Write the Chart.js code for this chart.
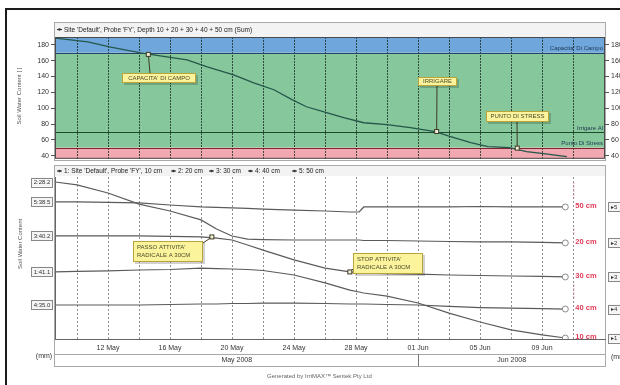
<!DOCTYPE html>
<html><head><meta charset="utf-8">
<script src="https://cdn.jsdelivr.net/npm/chart.js@4.4.1/dist/chart.umd.min.js"></script>
<style>
html,body{margin:0;padding:0;background:#fff;width:620px;height:385px;overflow:hidden;}
#wrap{position:relative;width:620px;height:385px;}
#frameLine{position:absolute;left:5px;top:8px;width:640px;height:400px;border-top:2px solid #1c1c1c;border-left:2px solid #1c1c1c;}
canvas{position:absolute;left:0;}
#top{top:0;}
#bot{top:165px;}
#gen{position:absolute;left:267px;top:373px;font:6px 'Liberation Sans',Arial,sans-serif;color:#666;white-space:nowrap;}
</style></head>
<body><div id="wrap">
<div id="frameLine"></div>
<canvas id="top" width="620" height="165"></canvas>
<canvas id="bot" width="620" height="220"></canvas>
<div id="gen">Generated by IrriMAX™ Sentek Pty Ltd</div>
</div>
<script>
// ---------- data ----------
// x values are day numbers counted from 1 May 2008 (32 = 01 Jun)
const sumDays   = [8.6, 10.7, 12.1, 14.1, 15.8, 17.1, 18.4, 20.1, 21.4, 22.7, 23.9, 24.8, 26.1, 27.2, 28.5, 30.0, 31.5, 33.1, 34.1, 35.4, 36.5, 37.9, 39.0, 40.1, 41.6];
const sumValues = [188.5, 183.8, 177.5, 169.9, 164.9, 161.1, 152.3, 142.2, 132.1, 123.3, 110.6, 101.8, 94.3, 88.0, 81.6, 79.1, 75.3, 70.3, 64.0, 56.4, 51.4, 50.1, 45.1, 42.5, 38.7];
const sumTicks  = [40, 60, 80, 100, 120, 140, 160, 180];
const fullPoint = 170, refillPoint = 70, stressPoint = 50;

const depthDays = [8.6, 10, 12, 14, 16, 18, 19, 20, 21, 22, 24, 26, 27.6, 28.2, 28.5, 30, 32, 34, 36, 38, 40, 41.5];
const depth10 = [41.4, 41.7, 42.0, 42.6, 42.9, 43.8, 43.5, 43.2, 42.9, 42.3, 39.5, 34.6, 30.2, 29.0, 28.4, 26.5, 22.2, 16.0, 10.5, 5.6, 2.5, 0.6];
const depth20 = [96.9, 95.1, 90.1, 83.3, 79.0, 73.5, 67.9, 63.6, 61.7, 61.4, 61.1, 61.1, 61.1, 61.1, 60.8, 60.8, 60.5, 60.2, 59.9, 59.9, 59.6, 59.3];
const depth30 = [63.6, 63.6, 63.6, 63.6, 63.3, 63.0, 62.3, 61.1, 58.0, 54.9, 48.8, 43.8, 41.4, 41.0, 40.7, 40.4, 40.1, 39.5, 39.2, 38.9, 38.6, 38.3];
const depth40 = [21.0, 21.0, 21.0, 21.0, 21.3, 21.6, 21.6, 21.9, 21.9, 22.2, 22.2, 21.9, 21.6, 21.6, 21.6, 21.3, 21.0, 20.1, 19.4, 19.1, 18.8, 18.5];
const depth50 = [84.6, 84.6, 84.3, 84.0, 82.7, 81.5, 81.2, 80.9, 80.6, 80.2, 79.6, 79.0, 78.4, 78.4, 81.5, 81.5, 81.5, 81.5, 81.8, 81.5, 81.5, 81.5];
const depthNames = ['10 cm', '20 cm', '30 cm', '40 cm', '50 cm'];
const startBoxLabels = ['1:41.1', '2:28.2', '3:40.2', '4:35.0', '5:38.5'];
const endBoxLabels = ['▸1', '▸2', '▸3', '▸4', '▸5'];

const gridDays = [10, 12, 14, 16, 18, 20, 22, 24, 26, 28, 30, 32, 34, 36, 38, 40, 42];
const dayLabels = {12:'12 May', 16:'16 May', 20:'20 May', 24:'24 May', 28:'28 May', 32:'01 Jun', 36:'05 Jun', 40:'09 Jun'};
const xMin = 8.58, xMax = 44.06;

const topTitle = "Site 'Default', Probe 'FY', Depth 10 + 20 + 30 + 40 + 50 cm (Sum)";
const legendItems = ["1: Site 'Default', Probe 'FY', 10 cm", '2: 20 cm', '3: 30 cm', '4: 40 cm', '5: 50 cm'];

// ---------- helpers ----------
const FONT = "'Liberation Sans', Arial, sans-serif";
function callout(ctx, lines, box, from, tx, ty, align){
  ctx.save();
  ctx.strokeStyle = '#3d3a25'; ctx.lineWidth = 1;
  ctx.beginPath(); ctx.moveTo(from[0], from[1]); ctx.lineTo(tx, ty); ctx.stroke();
  ctx.fillStyle = '#f2f0d8'; ctx.fillRect(tx-2, ty-2, 4, 4);
  ctx.strokeRect(tx-2, ty-2, 4, 4);
  ctx.fillStyle = 'rgba(0,0,0,0.18)'; ctx.fillRect(box[0]+2, box[1]+2, box[2], box[3]);
  ctx.fillStyle = '#fbf49c'; ctx.fillRect(box[0], box[1], box[2], box[3]);
  ctx.strokeStyle = '#b9a53c'; ctx.strokeRect(box[0]+0.5, box[1]+0.5, box[2]-1, box[3]-1);
  ctx.fillStyle = '#4b4a2c'; ctx.font = '6px ' + FONT; ctx.textBaseline = 'middle';
  const lh = 7.5, y0 = box[1] + box[3]/2 - (lines.length-1)*lh/2;
  lines.forEach((t, i) => {
    if (align === 'left') { ctx.textAlign = 'left'; ctx.fillText(t, box[0]+4, y0 + i*lh); }
    else { ctx.textAlign = 'center'; ctx.fillText(t, box[0]+box[2]/2, y0 + i*lh); }
  });
  ctx.restore();
}
function legendMark(ctx, x, y, color){
  ctx.save(); ctx.strokeStyle = color; ctx.fillStyle = color; ctx.lineWidth = 1;
  ctx.beginPath(); ctx.moveTo(x, y); ctx.lineTo(x+5, y); ctx.stroke();
  ctx.beginPath(); ctx.arc(x+2.5, y, 1.3, 0, Math.PI*2); ctx.fill();
  ctx.restore();
}

// ---------- top chart ----------
const topDecor = {
  id: 'topDecor',
  beforeDraw(chart){
    const {ctx, chartArea: a, scales: {y}} = chart;
    ctx.save();
    ctx.fillStyle = '#f3f3f3'; ctx.fillRect(54, 22, 552, 15);
    ctx.strokeStyle = '#a9a9a9'; ctx.lineWidth = 1; ctx.strokeRect(54.5, 22.5, 551, 138);
    legendMark(ctx, 57, 29.5, '#333');
    ctx.fillStyle = '#222'; ctx.font = '6.5px ' + FONT; ctx.textBaseline = 'middle';
    ctx.fillText(topTitle, 64, 30);
    const yF = y.getPixelForValue(fullPoint), yS = y.getPixelForValue(stressPoint);
    ctx.fillStyle = '#6fa7dd'; ctx.fillRect(a.left, a.top, a.width, yF - a.top);
    ctx.fillStyle = '#86c89c'; ctx.fillRect(a.left, yF, a.width, yS - yF);
    ctx.fillStyle = '#f1a8b1'; ctx.fillRect(a.left, yS, a.width, a.bottom - yS);
    // axis title
    ctx.translate(19, 96); ctx.rotate(-Math.PI/2);
    ctx.fillStyle = '#555'; ctx.font = '6px ' + FONT; ctx.textAlign = 'center';
    ctx.fillText('Soil Water Content [ ]', 0, 0);
    ctx.restore();
  },
  beforeDatasetsDraw(chart){
    const {ctx, chartArea: a, scales: {y}} = chart;
    ctx.save(); ctx.lineWidth = 1.2;
    [[fullPoint, '#27416a'], [refillPoint, '#1d4a2a'], [stressPoint, '#7d2530']].forEach(([v, c]) => {
      const py = Math.round(y.getPixelForValue(v)) + 0.5;
      ctx.strokeStyle = c; ctx.beginPath(); ctx.moveTo(a.left, py); ctx.lineTo(a.right, py); ctx.stroke();
    });
    ctx.strokeStyle = '#4a4a4a'; ctx.lineWidth = 1;
    ctx.strokeRect(a.left + 0.5, a.top + 0.5, a.width - 1, a.height - 1);
    ctx.fillStyle = '#1f3550'; ctx.font = '6px ' + FONT; ctx.textAlign = 'right'; ctx.textBaseline = 'bottom';
    ctx.fillText("Capacita' Di Campo", a.right - 2, y.getPixelForValue(fullPoint) - 1);
    ctx.fillText('Irrigare Al', a.right - 2, y.getPixelForValue(refillPoint) - 1);
    ctx.fillText('Punto Di Stress', a.right - 2, y.getPixelForValue(stressPoint) - 1);
    ctx.restore();
  },
  afterDraw(chart){
    const {ctx, scales: {x, y}} = chart;
    let tx = x.getPixelForValue(14.6), ty = y.getPixelForValue(168);
    callout(ctx, ["CAPACITA' DI CAMPO"], [122, 73, 74, 10], [150, 73], tx, ty);
    tx = x.getPixelForValue(33.2); ty = y.getPixelForValue(70.5);
    callout(ctx, ['IRRIGARE'], [418, 77, 39, 9], [437, 86], tx, ty);
    tx = x.getPixelForValue(38.4); ty = y.getPixelForValue(49.5);
    callout(ctx, ['PUNTO DI STRESS'], [486, 111, 63, 11], [517, 122], tx, ty);
  }
};

const yTopCommon = {
  min: 36, max: 190,
  afterBuildTicks: s => { s.ticks = sumTicks.map(v => ({value: v})); },
  ticks: {font: {size: 7, family: FONT}, color: '#333', padding: 2},
  grid: {drawOnChartArea: false, tickLength: 4, color: '#555'},
  border: {display: false}
};

new Chart(document.getElementById('top'), {
  type: 'line',
  data: {datasets: [{
    data: sumDays.map((d, i) => ({x: d, y: sumValues[i]})),
    borderColor: '#25574b', borderWidth: 1.3, pointRadius: 0, tension: 0
  }]},
  options: {
    responsive: false, animation: false, events: [],
    layout: {padding: {left: 0, right: 0, top: 37, bottom: 6}},
    plugins: {legend: {display: false}, tooltip: {enabled: false}},
    scales: {
      x: {type: 'linear', min: xMin, max: xMax,
        afterBuildTicks: s => { s.ticks = gridDays.map(v => ({value: v})); },
        ticks: {display: false},
        grid: {color: 'rgba(25,45,35,0.8)', drawTicks: false, lineWidth: 1},
        border: {display: false, dash: [2, 1]},
        afterFit: s => { s.height = 0; }},
      y: Object.assign({}, yTopCommon, {position: 'left', afterFit: s => { s.width = 55; }}),
      y2: Object.assign({}, yTopCommon, {position: 'right', afterFit: s => { s.width = 15; }})
    }
  },
  plugins: [topDecor]
});

// ---------- bottom chart ----------
const depthSeries = [depth10, depth20, depth30, depth40, depth50];
const botDecor = {
  id: 'botDecor',
  beforeDraw(chart){
    const {ctx, chartArea: a, scales: {x}} = chart;
    ctx.save();
    ctx.fillStyle = '#f3f3f3'; ctx.fillRect(54, 0, 552, 11);
    ctx.strokeStyle = '#a9a9a9'; ctx.lineWidth = 1; ctx.strokeRect(54.5, 0.5, 551, 201);
    ctx.beginPath(); ctx.moveTo(54, 189.5); ctx.lineTo(606, 189.5); ctx.stroke();
    const xj = Math.round(x.getPixelForValue(32)) + 0.5;
    ctx.strokeStyle = '#777'; ctx.beginPath(); ctx.moveTo(xj, 189); ctx.lineTo(xj, 201); ctx.stroke();
    ctx.fillStyle = '#222'; ctx.font = '6.5px ' + FONT; ctx.textBaseline = 'middle';
    const lx = [57, 171, 209, 248, 292];
    legendItems.forEach((t, i) => { legendMark(ctx, lx[i], 6, '#333'); ctx.fillText(t, lx[i] + 7, 6.5); });
    ctx.font = '7px ' + FONT; ctx.textAlign = 'center'; ctx.fillStyle = '#333';
    ctx.fillText('May 2008', (a.left + xj)/2, 195.5);
    ctx.fillText('Jun 2008', (xj + a.right)/2, 195.5);
    ctx.fillText('(mm)', 44, 191);
    ctx.textAlign = 'left'; ctx.fillText('(mm)', 611, 192);
    ctx.save(); ctx.translate(20, 104); ctx.rotate(-Math.PI/2);
    ctx.fillStyle = '#555'; ctx.font = '6px ' + FONT; ctx.fillText('Soil Water Content', 0, 0);
    ctx.restore();
    ctx.restore();
  },
  afterDatasetsDraw(chart){
    const {ctx, chartArea: a, scales: {x, y}} = chart;
    ctx.save();
    ctx.strokeStyle = '#666'; ctx.lineWidth = 1;
    ctx.beginPath(); ctx.moveTo(a.left + 0.5, a.top); ctx.lineTo(a.left + 0.5, a.bottom); ctx.stroke();
    const last = depthDays.length - 1;
    const ex = x.getPixelForValue(depthDays[last]);
    // pink leader marks
    ctx.strokeStyle = 'rgba(225,110,140,0.7)'; ctx.setLineDash([1, 1]);
    [[18, 34], [63, 71], [119, 135]].forEach(([y1, y2]) => { ctx.beginPath(); ctx.moveTo(ex + 8.5, y1); ctx.lineTo(ex + 8.5, y2); ctx.stroke(); });
    ctx.setLineDash([]);
    depthSeries.forEach((vals, i) => {
      const sy = y.getPixelForValue(vals[0]), ey = y.getPixelForValue(vals[last]);
      // start box
      ctx.fillStyle = '#f5f5f5'; ctx.fillRect(31, sy - 4.5, 22, 9);
      ctx.strokeStyle = '#888'; ctx.strokeRect(31.5, Math.round(sy - 4.5) + 0.5, 21, 9);
      ctx.fillStyle = '#333'; ctx.font = '6px ' + FONT; ctx.textAlign = 'center'; ctx.textBaseline = 'middle';
      ctx.fillText(startBoxLabels[i], 42, sy + 0.5);
      // end box
      ctx.fillStyle = '#f5f5f5'; ctx.fillRect(608, ey - 4.5, 16, 9);
      ctx.strokeStyle = '#888'; ctx.strokeRect(608.5, Math.round(ey - 4.5) + 0.5, 16, 9);
      ctx.fillStyle = '#333'; ctx.textAlign = 'left'; ctx.fillText(endBoxLabels[i], 611, ey + 0.5);
      // red depth label
      ctx.fillStyle = '#e23a57'; ctx.font = 'bold 7.5px ' + FONT; ctx.textAlign = 'left';
      ctx.fillText(depthNames[i], ex + 10, ey - 1);
    });
    let tx = x.getPixelForValue(18.7), ty = y.getPixelForValue(63.0);
    callout(ctx, ["PASSO ATTIVITA'", 'RADICALE A 30CM'], [133, 76, 70, 21], [203, 78], tx, ty, 'left');
    tx = x.getPixelForValue(27.6); ty = y.getPixelForValue(41.4);
    callout(ctx, ["STOP ATTIVITA'", 'RADICALE A 30CM'], [353, 88, 70, 21], [353, 104], tx, ty, 'left');
    ctx.restore();
  }
};

new Chart(document.getElementById('bot'), {
  type: 'line',
  data: {datasets: depthSeries.map((vals, i) => ({
    label: depthNames[i],
    data: depthDays.map((d, j) => ({x: d, y: vals[j]})),
    borderColor: '#5b5b5b', borderWidth: 1.2, tension: 0,
    pointRadius: c => c.dataIndex === depthDays.length - 1 ? 3 : 0,
    pointBackgroundColor: '#fff', pointBorderColor: '#8a8a8a', pointBorderWidth: 1
  }))},
  options: {
    responsive: false, animation: false, events: [],
    layout: {padding: {left: 55, right: 15, top: 12, bottom: 31}},
    plugins: {legend: {display: false}, tooltip: {enabled: false}},
    scales: {
      x: {type: 'linear', min: xMin, max: xMax,
        afterBuildTicks: s => { s.ticks = gridDays.map(v => ({value: v})); },
        ticks: {autoSkip: false, maxRotation: 0, padding: 5, font: {size: 7, family: FONT}, color: '#333',
          callback: v => dayLabels[v] || ''},
        grid: {color: '#8e8e8e', drawTicks: false, lineWidth: 1},
        border: {display: true, color: '#666', dash: [2, 2]},
        afterFit: s => { s.height = 15; }},
      y: {display: false, min: 0, max: 100}
    }
  },
  plugins: [botDecor]
});
</script>
</body></html>
